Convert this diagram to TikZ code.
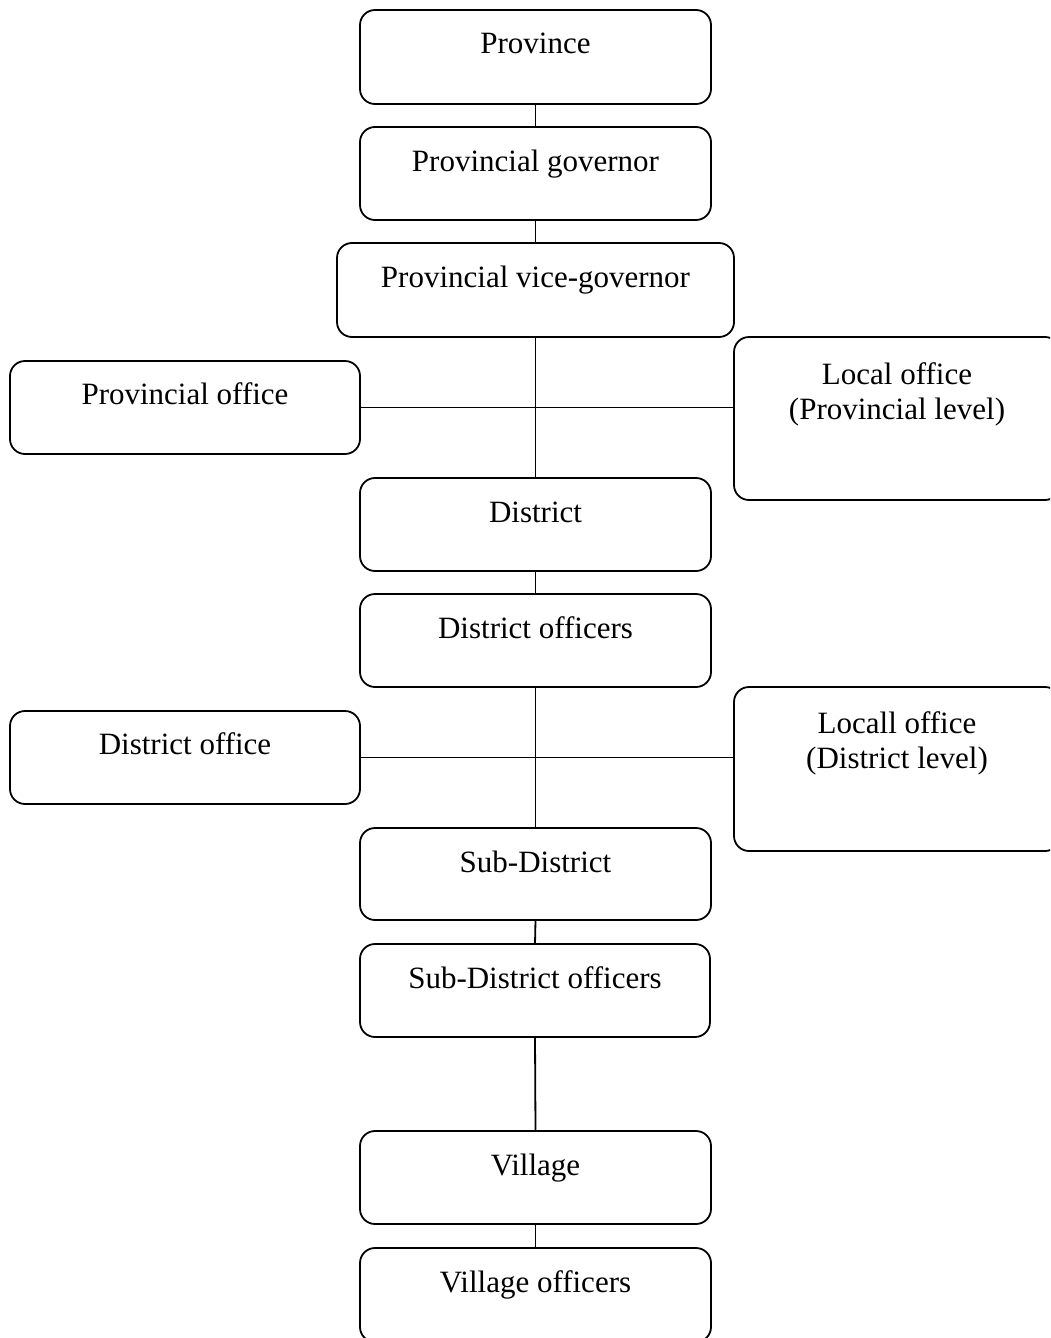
\documentclass[tikz,border=0pt]{standalone}
\usepackage{fontspec}
\setmainfont{Liberation Serif}
\begin{document}
\begin{tikzpicture}[x=1pt,y=-1pt,
  box/.style={draw, line width=1.8pt, rounded corners=15pt, anchor=north west, inner sep=0pt, outer sep=0pt},
  lbl/.style={anchor=base, inner sep=0pt, font=\fontsize{31}{36}\selectfont},
  conn/.style={line width=1.8pt}]
\useasboundingbox (0,0) rectangle (1050,1338);
\clip (0,0) rectangle (1050,1338);
% boxes
\node[box, minimum width=351pt, minimum height=94pt] (prov) at (360,10) {};
\node[box, minimum width=351pt, minimum height=93pt] (gov) at (360,127) {};
\node[box, minimum width=397pt, minimum height=94pt] (vice) at (337,243) {};
\node[box, minimum width=350pt, minimum height=93pt] (pofc) at (10,361) {};
\node[box, minimum width=326pt, minimum height=163pt] (lprov) at (734,337) {};
\node[box, minimum width=351pt, minimum height=93pt] (dist) at (360,478) {};
\node[box, minimum width=351pt, minimum height=93pt] (distof) at (360,594) {};
\node[box, minimum width=350pt, minimum height=93pt] (dofc) at (10,711) {};
\node[box, minimum width=326pt, minimum height=164pt] (ldist) at (734,687) {};
\node[box, minimum width=351pt, minimum height=92pt] (sub) at (360,828) {};
\node[box, minimum width=350pt, minimum height=93pt] (subof) at (360,944) {};
\node[box, minimum width=351pt, minimum height=93pt] (vil) at (360,1131) {};
\node[box, minimum width=351pt, minimum height=94pt] (vilof) at (360,1248) {};
% labels
\node[lbl] (provT) at ([yshift=-44pt]prov.north) {Province};
\node[lbl] (govT) at ([yshift=-44pt]gov.north) {Provincial governor};
\node[lbl] (viceT) at ([yshift=-44pt]vice.north) {Provincial vice-governor};
\node[lbl] (pofcT) at ([yshift=-43pt]pofc.north) {Provincial office};
\node[lbl] (lprovT1) at ([yshift=-47pt]lprov.north) {Local office};
\node[lbl] (lprovT2) at ([yshift=-82pt]lprov.north) {(Provincial level)};
\node[lbl] (distT) at ([yshift=-44pt]dist.north) {District};
\node[lbl] (distofT) at ([yshift=-44pt]distof.north) {District officers};
\node[lbl] (dofcT) at ([yshift=-43pt]dofc.north) {District office};
\node[lbl] (ldistT1) at ([yshift=-46pt]ldist.north) {Locall office};
\node[lbl] (ldistT2) at ([yshift=-81pt]ldist.north) {(District level)};
\node[lbl] (subT) at ([yshift=-44pt]sub.north) {Sub-District};
\node[lbl] (subofT) at ([yshift=-44pt]subof.north) {Sub-District officers};
\node[lbl] (vilT) at ([yshift=-44pt]vil.north) {Village};
\node[lbl] (vilofT) at ([yshift=-44pt]vilof.north) {Village officers};
% connectors
\draw[conn] (prov.south) -- (gov.north);
\draw[conn] (gov.south) -- (vice.north);
\draw[conn] (vice.south) -- (dist.north);
\draw[conn] (pofc.east) -- (pofc.east -| lprov.west);
\draw[conn] (dist.south) -- (distof.north);
\draw[conn] (distof.south) -- (sub.north);
\draw[conn] (dofc.east) -- (dofc.east -| ldist.west);
\draw[conn] (sub.south) -- (subof.north);
\draw[conn] (subof.south) -- (vil.north);
\draw[conn] (vil.south) -- (vilof.north);
\end{tikzpicture}
\end{document}
